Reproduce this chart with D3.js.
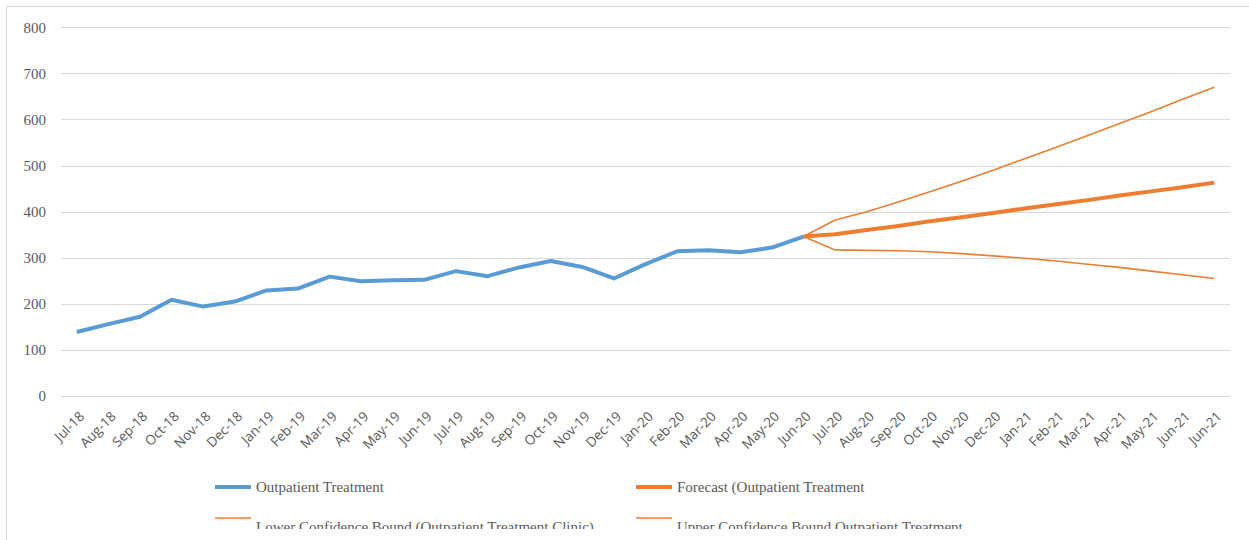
<!DOCTYPE html>
<html>
<head>
<meta charset="utf-8">
<script src="https://cdn.jsdelivr.net/npm/d3@7"></script>
<style>
  body { margin: 0; background: #fff; }
  .ylab { font-family: "Liberation Serif", serif; font-size: 15px; fill: #595959; }
  .xlab { font-family: "Open Sans", sans-serif; font-size: 13.5px; fill: #595959; }
  .leg { font-family: "Liberation Serif", serif; font-size: 15px; fill: #595959; }
</style>
</head>
<body>
<svg id="vis"></svg>
<script>
var months = ["Jul-18","Aug-18","Sep-18","Oct-18","Nov-18","Dec-18","Jan-19","Feb-19","Mar-19","Apr-19","May-19","Jun-19",
              "Jul-19","Aug-19","Sep-19","Oct-19","Nov-19","Dec-19","Jan-20","Feb-20","Mar-20","Apr-20","May-20","Jun-20",
              "Jul-20","Aug-20","Sep-20","Oct-20","Nov-20","Dec-20","Jan-21","Feb-21","Mar-21","Apr-21","May-21","Jun-21","Jun-21 "];

var outpatient = [139,156,172,209,194,205,229,233,259,249,251,252,
                  271,260,279,293,280,255,286,314,316,312,322,346];

// forecast series start at Jun-20 (index 23)
var forecast = [346,351,360,369,379,388,397,407,416,425,435,444,453,463];
var lowerBound = [346,317,316,315,313,309,304,299,293,286,279,271,263,255];
var upperBound = [346,382,400,421,443,466,490,515,540,565,591,617,644,670];

var yTicks = [0,100,200,300,400,500,600,700,800];

var legendItems = [
    {name: "Outpatient Treatment", color: "#5B9BD5", w: 4},
    {name: "Forecast (Outpatient Treatment", color: "#ED7D31", w: 4},
    {name: "Lower Confidence Bound (Outpatient Treatment Clinic)", color: "#ED7D31", w: 1.5},
    {name: "Upper Confidence Bound Outpatient Treatment", color: "#ED7D31", w: 1.5}
];

var width = 1249, height = 540;

var svg = d3.select("#vis")
    .attr("width", width)
    .attr("height", height);

// outer chart frame
svg.append("rect")
    .attr("x", 6.5).attr("y", 6.5)
    .attr("width", 1260).attr("height", 560)
    .attr("fill", "none")
    .attr("stroke", "#d9d9d9");

var xScale = d3.scaleBand()
    .domain(months)
    .range([61, 1230]);

var yScale = d3.scaleLinear()
    .domain([0, 800])
    .range([396, 27.3]);

function xc(i) {
    return xScale(months[i]) + xScale.bandwidth() / 2;
}

// gridlines
svg.append("g")
    .selectAll("line")
    .data(yTicks)
    .enter().append("line")
    .attr("x1", 61).attr("x2", 1230)
    .attr("y1", function (d) { return Math.round(yScale(d)) + 0.5; })
    .attr("y2", function (d) { return Math.round(yScale(d)) + 0.5; })
    .attr("stroke", "#d9d9d9")
    .attr("stroke-width", 1);

var yAxis = d3.axisLeft(yScale)
    .tickValues(yTicks)
    .tickSize(0)
    .tickPadding(0);

svg.append("g")
    .attr("transform", "translate(46,0)")
    .call(yAxis)
    .call(function (g) { g.select(".domain").remove(); })
    .selectAll("text")
    .attr("class", "ylab")
    .attr("dy", "0.32em");

// x labels
svg.append("g")
    .selectAll("text")
    .data(months)
    .enter().append("text")
    .attr("class", "xlab")
    .attr("text-anchor", "end")
    .attr("transform", function (d, i) {
        return "translate(" + (xc(i) + 5) + ",414) rotate(-45)";
    })
    .attr("dy", "0.35em")
    .text(function (d) { return d.trim(); });

var line = d3.line()
    .x(function (d) { return xc(d.i); })
    .y(function (d) { return yScale(d.v); });

function pts(arr, offset) {
    return arr.map(function (v, k) { return {i: k + offset, v: v}; });
}

svg.append("path")
    .datum(pts(lowerBound, 23))
    .attr("d", line)
    .attr("fill", "none")
    .attr("stroke", "#ED7D31")
    .attr("stroke-width", 1.6);

svg.append("path")
    .datum(pts(upperBound, 23))
    .attr("d", line)
    .attr("fill", "none")
    .attr("stroke", "#ED7D31")
    .attr("stroke-width", 1.6);

svg.append("path")
    .datum(pts(forecast, 23))
    .attr("d", line)
    .attr("fill", "none")
    .attr("stroke", "#ED7D31")
    .attr("stroke-width", 4)
    .attr("stroke-linejoin", "round");

svg.append("path")
    .datum(pts(outpatient, 0))
    .attr("d", line)
    .attr("fill", "none")
    .attr("stroke", "#5B9BD5")
    .attr("stroke-width", 4)
    .attr("stroke-linejoin", "round");

// legend, clipped at the bottom like the original
svg.append("clipPath")
    .attr("id", "legclip")
    .append("rect")
    .attr("x", 0).attr("y", 460).attr("width", width).attr("height", 69);

var legend = svg.append("g")
    .attr("clip-path", "url(#legclip)")
    .selectAll(".legend")
    .data(legendItems)
    .enter().append("g")
    .attr("class", "legend")
    .attr("transform", function (d, i) {
        return "translate(" + (i % 2 === 0 ? 215 : 636) + "," + (487 + Math.floor(i / 2) * 32) + ")";
    });

legend.append("line")
    .attr("x1", 0).attr("x2", 36)
    .attr("y1", function (d, i) { return i < 2 ? 0 : -1; })
    .attr("y2", function (d, i) { return i < 2 ? 0 : -1; })
    .attr("stroke", function (d) { return d.color; })
    .attr("stroke-width", function (d) { return d.w; });

legend.append("text")
    .attr("class", "leg")
    .attr("x", 41)
    .attr("y", function (d, i) { return i < 2 ? 0 : 8; })
    .attr("dy", "0.35em")
    .text(function (d) { return d.name; });
</script>
</body>
</html>
